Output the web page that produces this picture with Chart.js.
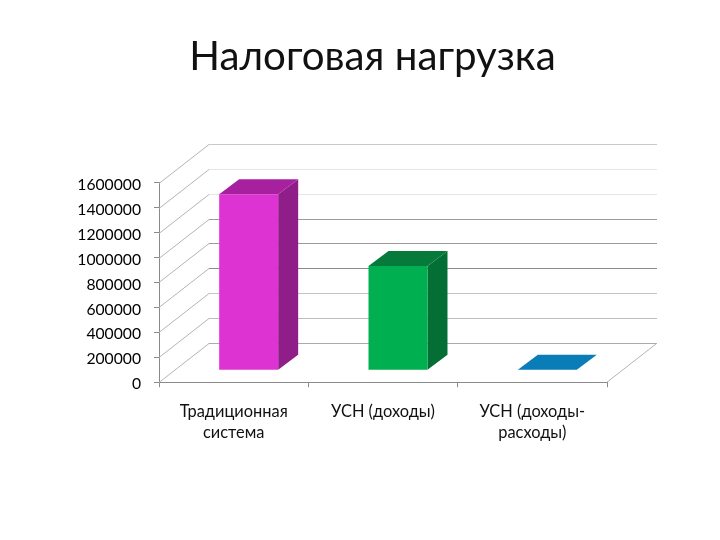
<!DOCTYPE html>
<html lang="ru">
<head>
<meta charset="utf-8">
<title>Налоговая нагрузка</title>
<script src="https://cdn.jsdelivr.net/npm/chart.js@4"></script>
<style>
  html, body { margin: 0; background: #fff; }
  canvas { display: block; }
</style>
</head>
<body>
<canvas id="taxChart" width="720" height="540"></canvas>
<script>
const titleText = 'Налоговая нагрузка';
const categories = [['Традиционная', 'система'], 'УСН (доходы)', ['УСН (доходы-', 'расходы)']];
const taxLoad = [1411000, 835000, 3000];
const yTickValues = [0, 200000, 400000, 600000, 800000, 1000000, 1200000, 1400000, 1600000];

const frontColors = ['#DD33D2', '#00B050', '#1A9AD6'];
const sideColors = ['#8F1E88', '#036F35', '#0A7DB8'];
const topColors = ['#A7219E', '#067A3A', '#0A7DB8'];
// back wall lines are not even in the original, from 0 up to 1600000
const wallLineColors = ['#ababab', '#bdbdbd', '#c4c4c4', '#8c8c8c', '#9a9a9a', '#9c9c9c', '#e6e6e6', '#e6e6e6', '#c8c8c8'];

const FONT = 'Lato, "Open Sans", sans-serif';
const AXIS_COLOR = '#8a8a8a';
const WALL = { dx: 50, dy: -39 };       // how far back the wall sits
const BAR_SHIFT = { dx: 15, dy: -12 };  // front face of the bars
const BAR_DEPTH = { dx: 20, dy: -15 };

function fillPoly(ctx, pts, color) {
  ctx.fillStyle = color;
  ctx.beginPath();
  pts.forEach((p, i) => i ? ctx.lineTo(p[0], p[1]) : ctx.moveTo(p[0], p[1]));
  ctx.closePath();
  ctx.fill();
}

function line(ctx, x1, y1, x2, y2, color) {
  ctx.strokeStyle = color;
  ctx.lineWidth = 1;
  ctx.beginPath();
  ctx.moveTo(x1, y1);
  ctx.lineTo(x2, y2);
  ctx.stroke();
}

// back wall, side wall and floor
const wallsPlugin = {
  id: 'walls',
  afterLayout(chart) {
    // title sits right of the page centre in the original
    chart.titleBlock.left = 25;
    chart.titleBlock.right = 720;
  },
  beforeDatasetsDraw(chart) {
    const { ctx, scales: { x, y } } = chart;
    ctx.save();
    yTickValues.forEach((v, i) => {
      const py = Math.round(y.getPixelForValue(v)) + 0.5;
      line(ctx, x.left, py, x.left + WALL.dx, py + WALL.dy, '#b4b4b4');
      line(ctx, x.left + WALL.dx, py + WALL.dy, x.right + WALL.dx, py + WALL.dy, wallLineColors[i]);
    });
    const base = y.getPixelForValue(0);
    line(ctx, x.right, base, x.right + WALL.dx, base + WALL.dy, '#b4b4b4');
    ctx.restore();
  }
};

// 3D sides of every bar, the bar itself is shifted onto the floor
const boxPlugin = {
  id: 'box3d',
  beforeDatasetDraw(chart, args) {
    const { ctx } = chart;
    ctx.save();
    ctx.translate(BAR_SHIFT.dx, BAR_SHIFT.dy);
    args.meta.data.forEach((bar, i) => {
      const r = bar.x + bar.width / 2;
      const l = bar.x - bar.width / 2;
      const d = BAR_DEPTH;
      fillPoly(ctx, [[r, bar.y], [r + d.dx, bar.y + d.dy], [r + d.dx, bar.base + d.dy], [r, bar.base]], sideColors[i]);
      fillPoly(ctx, [[l, bar.y], [l + d.dx, bar.y + d.dy], [r + d.dx, bar.y + d.dy], [r, bar.y]], topColors[i]);
    });
  },
  afterDatasetDraw(chart) {
    chart.ctx.restore();
  }
};

new Chart(document.getElementById('taxChart'), {
  type: 'bar',
  data: {
    labels: categories,
    datasets: [{
      data: taxLoad,
      backgroundColor: frontColors,
      borderWidth: 0,
      barPercentage: 0.395,
      categoryPercentage: 1,
      clip: false
    }]
  },
  options: {
    responsive: false,
    animation: false,
    layout: { padding: { left: 0, right: 113, top: 0, bottom: 0 } },
    plugins: {
      legend: { display: false },
      tooltip: { enabled: false },
      title: {
        display: true,
        text: titleText,
        color: '#111',
        font: { family: FONT, size: 40.3, weight: 'normal', lineHeight: 1.2 },
        padding: { top: 33, bottom: 101.4 }
      }
    },
    scales: {
      x: {
        afterFit(scale) { scale.height = 157.8; },
        border: { color: AXIS_COLOR },
        grid: { drawOnChartArea: false, color: AXIS_COLOR, tickLength: 5 },
        ticks: {
          color: '#111',
          font: { family: FONT, size: 16.4, lineHeight: 1.32 },
          padding: 13.5,
          maxRotation: 0,
          autoSkip: false
        }
      },
      y: {
        min: 0,
        max: 1600000,
        afterFit(scale) { scale.width = 159; },
        afterBuildTicks(scale) { scale.ticks = yTickValues.map(v => ({ value: v })); },
        border: { color: AXIS_COLOR },
        grid: { drawOnChartArea: false, color: AXIS_COLOR, tickLength: 5 },
        ticks: {
          color: '#000',
          // small line height + empty first line pushes the number down onto its tick
          font: { family: FONT, size: 15.7, lineHeight: 0.26 },
          padding: 13,
          callback: v => ['', String(v)]
        }
      }
    }
  },
  plugins: [wallsPlugin, boxPlugin]
});
</script>
</body>
</html>
